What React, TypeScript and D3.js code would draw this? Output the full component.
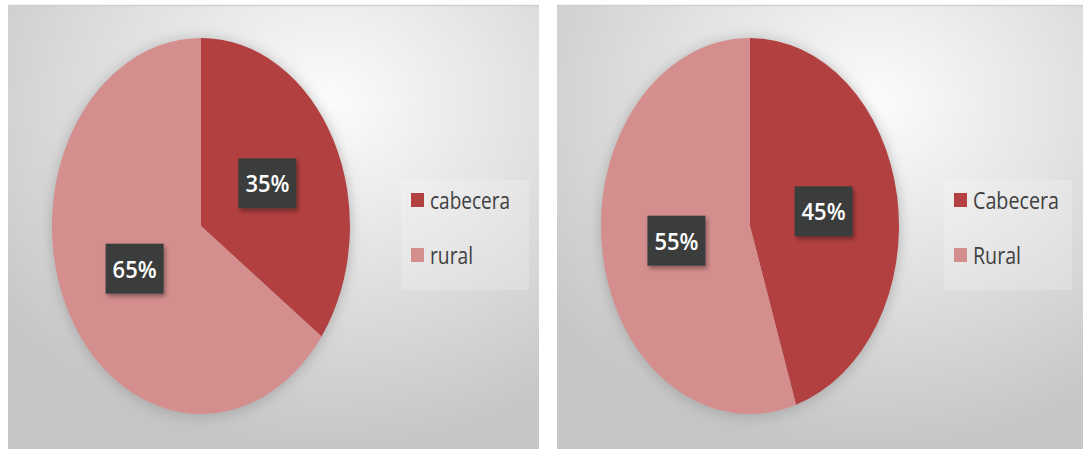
import React from "react";
import * as d3 from "d3";

const leftCategories = ["cabecera", "rural"];
const leftValues = [35, 65];
const rightCategories = ["Cabecera", "Rural"];
const rightValues = [45, 55];
const sliceColors = ["#b3413f", "#d58e8e"];

const W = 1083;
const H = 449;

type PanelProps = {
  id: string;
  x: number;
  w: number;
  cats: string[];
  vals: number[];
  cx: number;
  legendX: number;
  legendW: number[];
};

function Panel({ id, x, w, cats, vals, cx, legendX, legendW }: PanelProps) {
  const cy = 226;
  const rx = 149;
  const ry = 188;
  const pie = d3.pie<number>().sort(null).value((d) => d)(vals);
  const arc = d3.arc<d3.PieArcDatum<number>>().innerRadius(0).outerRadius(ry);
  const sx = rx / ry;
  const total = d3.sum(vals);
  return (
    <g>
      <defs>
        <radialGradient id={`bg-${id}`} cx="0.6" cy="0.22" r="0.78" gradientUnits="objectBoundingBox">
          <stop offset="0" stopColor="#fcfcfc" />
          <stop offset="0.45" stopColor="#e4e4e4" />
          <stop offset="1" stopColor="#c6c6c6" />
        </radialGradient>
      </defs>
      <rect x={x} y={5} width={w} height={H - 5} fill={`url(#bg-${id})`} />
      <line x1={x} x2={x + w} y1={5.5} y2={5.5} stroke="#cfcfcf" strokeWidth={1.5} />
      <g transform={`translate(${cx},${cy}) scale(${sx},1)`} filter="url(#pieShadow)">
        {pie.map((p, i) => (
          <path key={i} d={arc(p) || ""} fill={sliceColors[i]} />
        ))}
      </g>
      {pie.map((p, i) => {
        const [ax, ay] = arc.centroid(p);
        const lx = cx + ax * sx;
        const ly = cy + ay;
        const label = `${Math.round((p.value / total) * 100)}%`;
        return (
          <g key={`l${i}`}>
            <rect x={lx - 29} y={ly - 25} width={58} height={50} fill="#3a3c3c" filter="url(#boxShadow)" />
            <text
              x={lx}
              y={ly + 9}
              textAnchor="middle"
              fill="#ffffff"
              fontFamily="'Open Sans', 'DejaVu Sans', sans-serif"
              fontWeight={600}
              fontSize={24}
              textLength={44}
              lengthAdjust="spacingAndGlyphs"
            >
              {label}
            </text>
          </g>
        );
      })}
      <rect x={legendX - 10} y={180} width={128} height={110} fill="#ffffff" opacity={0.2} />
      {cats.map((c, i) => (
        <g key={`g${i}`}>
          <rect x={legendX} y={193 + i * 55} width={13} height={14} fill={sliceColors[i]} />
          <text
            x={legendX + 19}
            y={209 + i * 55}
            fill="#404040"
            fontFamily="'Open Sans', 'DejaVu Sans', sans-serif"
            fontSize={23}
            textLength={legendW[i]}
            lengthAdjust="spacingAndGlyphs"
          >
            {c}
          </text>
        </g>
      ))}
    </g>
  );
}

export default function App() {
  return (
    <svg
      width={W}
      height={H}
      style={{ position: "absolute", left: 0, top: 0, background: "#ffffff" }}
    >
      <defs>
        <filter id="pieShadow" x="-20%" y="-20%" width="140%" height="140%">
          <feGaussianBlur in="SourceAlpha" stdDeviation="8" />
          <feOffset dx="0" dy="2" result="b" />
          <feFlood floodColor="#8a8a8a" floodOpacity="0.6" />
          <feComposite in2="b" operator="in" result="s" />
          <feMerge>
            <feMergeNode in="s" />
            <feMergeNode in="SourceGraphic" />
          </feMerge>
        </filter>
        <filter id="boxShadow" x="-30%" y="-30%" width="160%" height="160%">
          <feGaussianBlur in="SourceAlpha" stdDeviation="2" />
          <feOffset dx="2" dy="3" result="b" />
          <feFlood floodColor="#000000" floodOpacity="0.35" />
          <feComposite in2="b" operator="in" result="s" />
          <feMerge>
            <feMergeNode in="s" />
            <feMergeNode in="SourceGraphic" />
          </feMerge>
        </filter>
      </defs>
      <Panel
        id="a"
        x={8}
        w={531}
        cats={leftCategories}
        vals={leftValues}
        cx={201}
        legendX={411}
        legendW={[80, 43]}
      />
      <Panel
        id="b"
        x={557}
        w={526}
        cats={rightCategories}
        vals={rightValues}
        cx={750}
        legendX={954}
        legendW={[86, 48]}
      />
    </svg>
  );
}
